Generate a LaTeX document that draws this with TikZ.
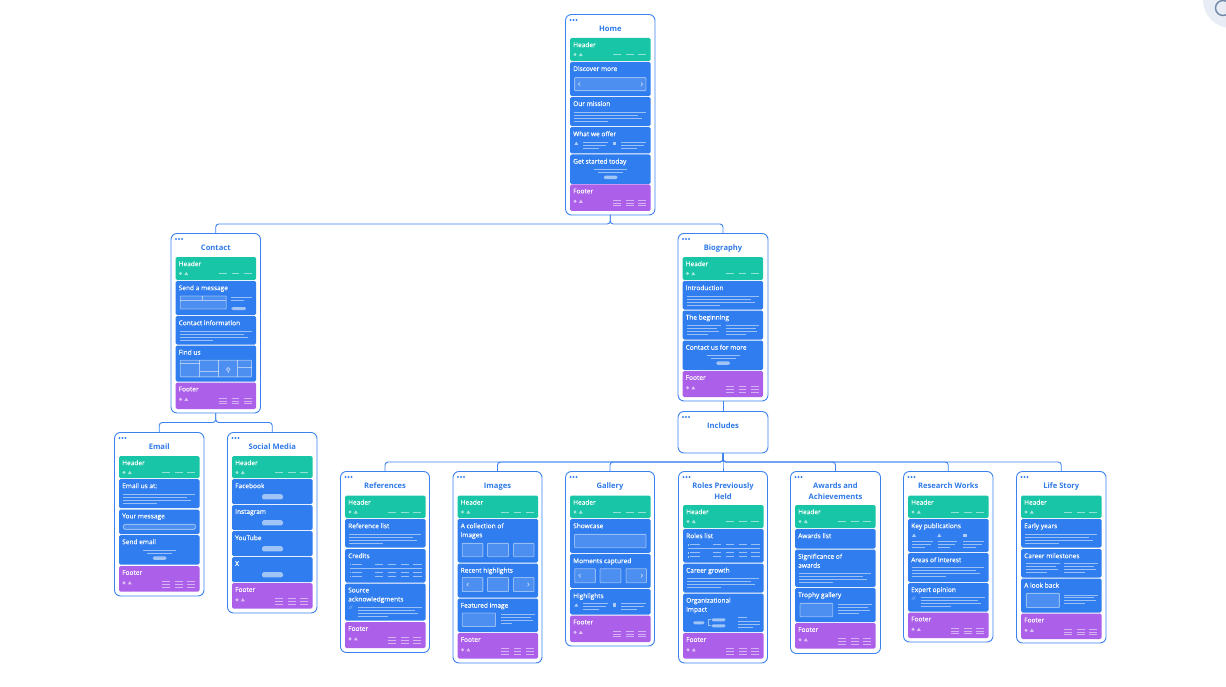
\documentclass[tikz,border=0pt]{standalone}
\usepackage{fontspec}
\setmainfont{Open Sans}
\newfontfamily\labfont{Open Sans}[FakeBold=0.35]
\definecolor{cardblue}{HTML}{3B82F0}
\definecolor{secblue}{HTML}{2F7DEE}
\definecolor{secteal}{HTML}{18C5A6}
\definecolor{secpurple}{HTML}{AC5FE8}
\definecolor{titleblue}{HTML}{2F7AE8}
\definecolor{palebg}{HTML}{E8ECF4}
\definecolor{iconline}{HTML}{6F86A8}
\newcount\nodeid
\newcommand{\lnode}[3]{\global\advance\nodeid by 1\relax\node[#1] (L\the\nodeid) at #2 {#3};}
\tikzset{
  x=1pt,y=-1pt,
  cardbox/.style={draw=cardblue,fill=white,line width=.9pt,rounded corners=6pt,inner sep=0pt,outer sep=0pt,anchor=north west},
  conn/.style={draw=cardblue,line width=.9pt,rounded corners=3pt},
  titletext/.style={text=titleblue,font=\fontsize{7.6}{10.5}\selectfont\bfseries,align=center,inner sep=0pt,anchor=north},
  seclabel/.style={text=white,font=\labfont\fontsize{6.55}{9}\selectfont,align=left,inner sep=0pt,anchor=north west},
  ln/.style={draw=white,draw opacity=.52,line width=.9pt},
  bx/.style={fill=white,fill opacity=.14,draw=white,draw opacity=.45,line width=.9pt,rounded corners=.6pt},
  pill/.style={fill=white,fill opacity=.55,rounded corners=1.6pt},
  ico/.style={fill=white,fill opacity=.6},
}
% ---- cards
\newcommand{\card}[6]{% name x1 y1 x2 y2 title
  \pgfmathsetmacro{\cw}{#4-#2}\pgfmathsetmacro{\ch}{#5-#3}\pgfmathsetmacro{\cm}{(#2+#4)/2}
  \xdef\cx{#2}
  \node[cardbox,minimum width=\cw pt,minimum height=\ch pt] (#1) at (#2,#3) {};
  \foreach \d in {5,8,11}{\fill[cardblue] ({#2+\d},{#3+5.5}) circle (1.15);}
  \lnode{titletext}{(\cm,{#3+11.1})}{#6}
}
\newcommand{\secbase}[5]{% colour y1 y2 label content
  \begin{scope}[shift={({\cx+4.5},#2)}]
    \pgfmathsetmacro{\sh}{#3-#2}
    \fill[#1,rounded corners=1.5pt] (0,0) rectangle (80.5,\sh);
    \lnode{seclabel}{(3,4)}{#4}
    #5
  \end{scope}
}
\newcommand{\blu}[4]{\secbase{secblue}{#1}{#2}{#3}{#4}}
\newcommand{\hdr}[2]{\secbase{secteal}{#1}{#2}{Header}{\mkMarks{16.5}%
  \foreach \a/\b in {43/51.3,56/63.6,68.3/76}{\draw[ln] (\a,16.7) -- (\b,16.7);}}}
\newcommand{\ftr}[2]{\secbase{secpurple}{#1}{#2}{Footer}{\mkMarks{16.8}%
  \foreach \a/\b in {43/51.3,56/63.6,68.3/76}{\foreach \yy in {15.7,18.5,21.3}{\draw[ln] (\a,\yy) -- (\b,\yy);}}}}
% ---- section content
\newcommand{\mkMarks}[1]{\fill[ico] (5,#1) circle (1.7);\mkTri{10.8}{#1}}
\newcommand{\mkTri}[2]{\fill[ico] ({#1-2},{#2+1.6}) -- ({#1+2},{#2+1.6}) -- (#1,{#2-1.7}) -- cycle;}
\newcommand{\mkSq}[2]{\fill[ico] ({#1-1.6},{#2-1.6}) rectangle ({#1+1.6},{#2+1.6});}
\newcommand{\mkLines}[4]{% x1 x2 y lastfraction
  \draw[ln] (#1,#3) -- (#2,#3);
  \draw[ln] (#1,{#3+2.9}) -- ({#1+(#2-#1)*.89},{#3+2.9});
  \draw[ln] (#1,{#3+5.8}) -- ({#1+(#2-#1)*.945},{#3+5.8});
  \draw[ln] (#1,{#3+8.8}) -- ({#1+(#2-#1)*#4},{#3+8.8});}
\newcommand{\mkPara}[1]{\mkLines{4}{76.3}{#1}{.47}}
\newcommand{\mkThree}[3]{% x1 x2 y
  \draw[ln] (#1,{#3}) -- (#2,{#3});
  \draw[ln] (#1,{#3+3}) -- ({#1+(#2-#1)*.9},{#3+3});
  \draw[ln] (#1,{#3+6}) -- ({#1+(#2-#1)*.62},{#3+6});}
\newcommand{\mkOffer}[1]{\mkTri{6.3}{#1}\mkThree{13}{38}{#1-1.2}\mkSq{44.3}{#1}\mkThree{51.3}{76}{#1-1.2}}
\newcommand{\mkCta}[1]{\draw[ln] (24,#1) -- (57,#1);\draw[ln] (28,{#1+3}) -- (53,{#1+3});
  \fill[pill] (33.6,{#1+6.2}) rectangle (47.6,{#1+9.6});}
\newcommand{\mkBtn}{\fill[pill] (30,15.2) rectangle (51,20.4);}
\newcommand{\mkTable}[1]{%
  \fill[ico] (4.6,{#1-.8}) rectangle (6.2,{#1+.8});\draw[ln] (7.3,#1) -- (17.3,#1);
  \draw[ln] (5,{#1+4}) -- (76.7,{#1+4});
  \fill[ico] (4.6,{#1+7.2}) rectangle (6.2,{#1+8.8});\draw[ln] (7.3,{#1+8}) -- (17.3,{#1+8});
  \fill[ico] (4.6,{#1+11.2}) rectangle (6.2,{#1+12.8});\draw[ln] (7.3,{#1+12}) -- (17.3,{#1+12});
  \foreach \a/\b in {29.7/38.4,42.7/51.4,55.7/64.4,68/76.7}{%
    \draw[ln] (\a,#1) -- (\b,#1);\draw[ln] (\a,{#1+8}) -- (\b,{#1+8});\draw[ln] (\a,{#1+12}) -- (\b,{#1+12});}}
\newcommand{\mkChevL}[2]{\draw[ln] ({#1+1},{#2-1.7}) -- ({#1-.6},#2) -- ({#1+1},{#2+1.7});}
\newcommand{\mkChevR}[2]{\draw[ln] ({#1-1},{#2-1.7}) -- ({#1+.6},#2) -- ({#1-1},{#2+1.7});}
\newcommand{\mkBox}[4]{\path[bx] (#1,#3) rectangle (#2,#4);}
\newcommand{\mkCarousel}[2]{\mkBox{4.7}{25.3}{#1}{#2}\mkBox{30}{51}{#1}{#2}\mkBox{56}{76.5}{#1}{#2}}
\newcommand{\mkQuote}[1]{\lnode{text=white,text opacity=.7,font=\fontsize{5}{5}\selectfont\itshape,inner sep=0pt}{(5.6,{#1+.8})}{//}
  \mkLines{12.7}{76.7}{#1}{.47}}
\begin{document}
\begin{tikzpicture}
\useasboundingbox (0,0) rectangle (1226,687);
% search control at the corner
\begin{scope}
\clip (0,0) rectangle (1226,687);
\fill[palebg] (1231,0) circle (28);
\draw[iconline,line width=1.4pt] (1223,8) circle (7.5);
\end{scope}

% ---------- Home
\card{home}{565.5}{14.5}{655}{215}{Home}
\hdr{38}{61}
\blu{62}{96}{Discover more}{\mkBox{4.6}{76}{15.7}{28.7}\mkChevL{9}{22.2}\mkChevR{72}{22.2}}
\blu{97}{126}{Our mission}{\mkPara{15.3}}
\blu{127}{153.5}{What we offer}{\mkOffer{16.3}}
\blu{154.5}{184}{Get started today}{\mkCta{15}}
\ftr{184.5}{211}

% ---------- Contact
\card{contact}{171}{233.5}{260.5}{413}{Contact}
\hdr{257}{280}
\blu{281}{315}{Send a message}{%
  \mkBox{4.7}{50.7}{15}{28}\draw[ln] (4.7,19.3) -- (50.7,19.3);\draw[ln] (27,15) -- (27,19.3);
  \draw[ln] (55.7,16.3) -- (76,16.3);\draw[ln] (55.7,19) -- (68,19);
  \fill[pill] (55.7,26) rectangle (70.7,29);}
\blu{316}{344.5}{Contact information}{\mkPara{15.2}}
\blu{345.5}{381.5}{Find us}{%
  \mkBox{4.7}{76}{14.7}{31.3}
  \draw[ln] (24,14.7) -- (24,31.3);\draw[ln] (43,14.7) -- (43,31.3);\draw[ln] (62,14.7) -- (62,31.3);
  \draw[ln] (4.7,18.3) -- (24,18.3);\draw[ln] (24,26) -- (43,26);\draw[ln] (62,22.3) -- (76,22.3);
  \draw[ln] (52.7,23.8) circle (1.8);\draw[ln] (52.7,25.6) -- (52.7,27.6);}
\ftr{382.5}{409}

% ---------- Biography
\card{bio}{678}{233.5}{768}{401}{Biography}
\hdr{257}{280}
\blu{281}{309.5}{Introduction}{\mkPara{15.2}}
\blu{310.5}{339.5}{The beginning}{\mkLines{4.7}{38.7}{14.7}{.62}\mkLines{43}{76.7}{14.7}{.62}}
\blu{340.5}{370}{Contact us for more}{\mkCta{14.7}}
\ftr{371}{397}

% ---------- Includes
\card{incl}{678}{411.5}{768}{453}{Includes}

% ---------- Email
\card{email}{114.5}{432.5}{204}{596}{Email}
\hdr{456}{478}
\blu{479}{508}{Email us at:}{\mkPara{15.3}}
\blu{509.5}{534}{Your message}{\path[bx,rounded corners=1.5pt] (4.3,14.8) rectangle (76.7,19.8);}
\blu{535}{564.5}{Send email}{\mkCta{15.2}}
\ftr{566}{591.5}

% ---------- Social Media
\card{social}{227.5}{432.5}{317}{613}{Social Media}
\hdr{456}{478}
\blu{479}{504}{Facebook}{\mkBtn}
\blu{505}{530}{Instagram}{\mkBtn}
\blu{531}{556}{YouTube}{\mkBtn}
\blu{557}{582}{X}{\mkBtn}
\ftr{583}{608.5}

% ---------- References
\card{refs}{340.5}{471.5}{429.5}{652.5}{References}
\hdr{495.5}{518}
\blu{519}{547.5}{Reference list}{\mkPara{15.3}}
\blu{549}{582.5}{Credits}{\mkTable{15.3}}
\blu{583.5}{620.5}{Source\\acknowledgments}{\mkQuote{23.8}}
\ftr{622}{648}

% ---------- Images
\card{images}{453}{471.5}{542}{663}{Images}
\hdr{495.5}{518}
\blu{519}{562.5}{A collection of\\images}{\mkCarousel{24.3}{37.7}}
\blu{563.5}{597.5}{Recent highlights}{\mkCarousel{14}{28}\mkChevL{10}{21}\mkChevR{71}{21}}
\blu{598.5}{632}{Featured image}{\mkBox{4.7}{38}{14.5}{28}\mkLines{43}{77}{15.8}{.35}}
\ftr{633}{658.5}

% ---------- Gallery
\card{gallery}{565.5}{471.5}{654.5}{646}{Gallery}
\hdr{495.5}{518}
\blu{519}{553}{Showcase}{\mkBox{4.5}{76}{15.3}{28.7}}
\blu{554}{588}{Moments captured}{\mkCarousel{14.7}{28.7}\mkChevL{9.5}{21.7}\mkChevR{72}{21.7}}
\blu{589}{614.5}{Highlights}{\mkOffer{16}}
\ftr{615.5}{642}

% ---------- Roles
\card{roles}{678.5}{471.5}{767.5}{663}{Roles Previously\\Held}
\hdr{505}{528}
\blu{529}{562.5}{Roles list}{\mkTable{15.7}}
\blu{563.5}{592.5}{Career growth}{\mkPara{14.8}}
\blu{593.5}{632}{Organizational\\impact}{%
  \fill[pill] (10,27.8) rectangle (21.7,30.8);
  \draw[ln] (28,26.3) -- (25.5,26.3) -- (25.5,32.3) -- (28,32.3);
  \fill[pill] (28.4,24.8) rectangle (42.7,27.8);\fill[pill] (28.4,30.8) rectangle (42.7,33.8);
  \draw[ln] (55,24.3) -- (64.4,24.3);\draw[ln] (55,28) -- (76.7,28);\draw[ln] (55,31.3) -- (76.7,31.3);\draw[ln] (55,34.3) -- (70.4,34.3);}
\ftr{633}{658.5}

% ---------- Awards
\card{awards}{790.5}{471.5}{880.5}{653.5}{Awards and\\Achievements}
\hdr{505}{528}
\blu{529}{548.5}{Awards list}{}
\blu{549.5}{587}{Significance of\\awards}{\mkPara{23.8}}
\blu{588}{622}{Trophy gallery}{\mkBox{5}{37.7}{15.3}{28.7}\mkLines{43.3}{76.7}{16.3}{.62}}
\ftr{623}{648.5}

% ---------- Research
\card{research}{903.5}{471.5}{993}{642}{Research Works}
\hdr{495.5}{518}
\blu{519}{552}{Key publications}{%
  \mkTri{6}{16.3}\mkTri{31.3}{16.3}\mkSq{57}{16.3}
  \mkThree{4}{25.3}{22}\mkThree{29.7}{49.3}{22}\mkThree{55.3}{76}{22}}
\blu{553}{582}{Areas of interest}{\mkPara{14.7}}
\blu{583}{611.5}{Expert opinion}{\mkQuote{14.5}}
\ftr{612.5}{638}

% ---------- Life Story
\card{life}{1016.5}{471.5}{1106}{643}{Life Story}
\hdr{495.5}{518}
\blu{519}{547.5}{Early years}{\mkPara{15.3}}
\blu{549}{577.5}{Career milestones}{\mkLines{4.7}{38.7}{14.7}{.62}\mkLines{43}{76.7}{14.7}{.62}}
\blu{578.5}{612.5}{A look back}{\mkBox{5.3}{38.3}{14.8}{29}\mkLines{43.3}{76.7}{16.5}{.62}}
\ftr{613.5}{639}

% ---------- connectors
\draw[conn] (home.south) -- ++(0,9) -| (contact.north);
\draw[conn] (home.south) -- ++(0,9) -| (bio.north);
\draw[conn] (contact.south) -- ++(0,9.5) -| (email.north);
\draw[conn] (contact.south) -- ++(0,9.5) -| (social.north);
\draw[conn] (bio.south) -- (incl.north);
\foreach \t in {refs,images,gallery,roles,awards,research,life}{
  \draw[conn] (incl.south) -- ++(0,9) -| (\t.north);
}
\end{tikzpicture}
\end{document}
